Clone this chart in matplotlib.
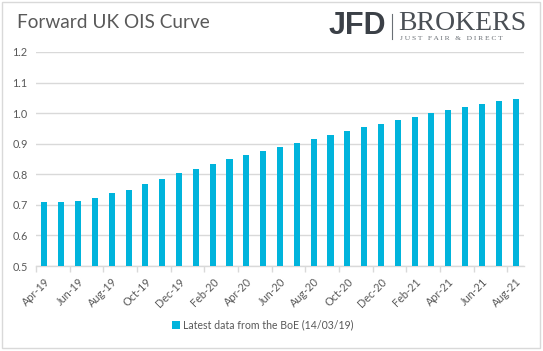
import matplotlib.pyplot as plt
from matplotlib.patches import Rectangle

# Data
months = ["Apr-19", "May-19", "Jun-19", "Jul-19", "Aug-19", "Sep-19", "Oct-19", "Nov-19",
          "Dec-19", "Jan-20", "Feb-20", "Mar-20", "Apr-20", "May-20", "Jun-20", "Jul-20",
          "Aug-20", "Sep-20", "Oct-20", "Nov-20", "Dec-20", "Jan-21", "Feb-21", "Mar-21",
          "Apr-21", "May-21", "Jun-21", "Jul-21", "Aug-21"]
ois_rate = [0.708, 0.708, 0.713, 0.723, 0.738, 0.750, 0.768, 0.783,
            0.803, 0.817, 0.833, 0.850, 0.862, 0.875, 0.888, 0.901,
            0.914, 0.927, 0.941, 0.954, 0.964, 0.977, 0.987, 1.001,
            1.011, 1.021, 1.031, 1.041, 1.047]
series_name = "Latest data from the BoE (14/03/19)"
y_ticks = [0.5, 0.6, 0.7, 0.8, 0.9, 1.0, 1.1, 1.2]

txt = "#595959"
bar_col = "#00b4dc"
grid_col = "#d9d9d9"

plt.rcParams['font.family'] = ['Lato', 'DejaVu Sans']

fig = plt.figure(figsize=(5.43, 3.51), dpi=100)
ax = fig.add_axes([0.0663, 0.242, 0.8987, 0.610])

x = list(range(len(months)))
bars = ax.bar(x, ois_rate, width=0.36, color=bar_col, label=series_name, zorder=3)

ax.set_ylim(0.5, 1.2)
ax.set_xlim(-0.5, len(months) - 0.5)
ax.set_yticks(y_ticks)
ax.set_yticklabels([f"{v:.1f}" for v in y_ticks])
ax.yaxis.grid(True, color=grid_col, linewidth=1.0, zorder=0)
ax.tick_params(axis='y', length=0, pad=6, labelsize=7.8, labelcolor=txt)

# labels every other month, tick marks between pairs of categories
ax.set_xticks(x[::2])
ax.set_xticklabels(months[::2], rotation=45, ha='right', rotation_mode='anchor')
ax.tick_params(axis='x', which='major', length=0, pad=7, labelsize=7.8, labelcolor=txt)
ax.set_xticks([i - 0.5 for i in range(0, len(months), 2)], minor=True)
ax.tick_params(axis='x', which='minor', length=4, color=grid_col, width=1)

for s in ['top', 'right', 'left']:
    ax.spines[s].set_visible(False)
ax.spines['bottom'].set_color(grid_col)
ax.spines['bottom'].set_linewidth(1.0)

# title
fig.text(17 / 543, 1 - 23 / 351, "Forward UK OIS Curve", fontsize=13.7, color=txt,
         va='center', ha='left')

# logo
fig.text(329 / 543, 1 - 26 / 351, "JFD", fontsize=22, fontweight='bold', color="#3b4047",
         family='Liberation Sans', va='center', ha='left')
fig.add_artist(plt.Line2D([392 / 543, 392 / 543], [1 - 14 / 351, 1 - 39 / 351],
                          color="#6a6f75", linewidth=0.8))
fig.text(398 / 543, 1 - 23 / 351, "BROKERS", fontsize=20, color="#4a4f55",
         family='Liberation Serif', va='center', ha='left')
fig.text(400 / 543, 1 - 38.5 / 351, "J U S T   F A I R   &   D I R E C T", fontsize=5.4,
         color="#6a6f75", family='Liberation Serif', va='center', ha='left')

# legend
fig.legend(handles=[bars], labels=[series_name], loc='center',
           bbox_to_anchor=(0.484, 1 - 325 / 351), frameon=False, fontsize=7.6,
           labelcolor=txt, handlelength=0.7, handleheight=0.7, handletextpad=0.3)

# chart border
fig.add_artist(Rectangle((2 / 543, 3 / 351), 538 / 543, 346 / 351, fill=False,
                         edgecolor=grid_col, linewidth=1.0, transform=fig.transFigure))

fig.savefig("out.png", dpi=100)
